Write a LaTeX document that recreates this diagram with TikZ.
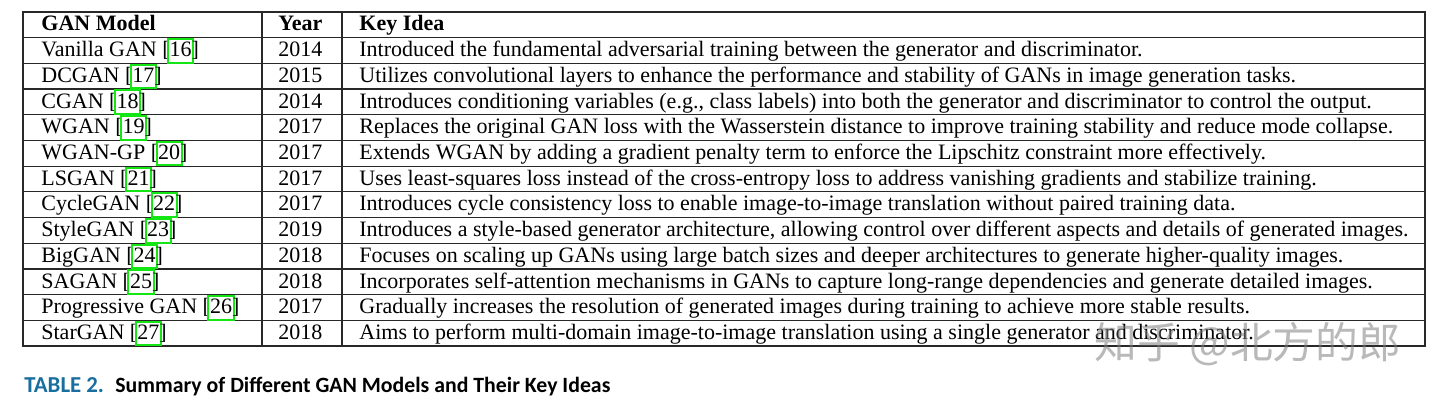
\documentclass[tikz,border=0pt]{standalone}
\usepackage{fontspec}
\setmainfont{Liberation Serif}
\newfontfamily\capfont{Carlito}
\newfontfamily\cjkfont{Noto Sans CJK SC}
\usetikzlibrary{positioning}

\definecolor{citegreen}{RGB}{20,230,20}
\definecolor{capblue}{RGB}{25,110,160}
\definecolor{tableline}{RGB}{40,40,40}

% green link box round a reference number, takes no width
\newcommand\citebox[1]{\rlap{\kern-1.3pt\textcolor{citegreen}{\setlength\fboxrule{1pt}\setlength\fboxsep{0.3pt}\fbox{\phantom{#1}\rule[-2.2pt]{0pt}{10.2pt}}}}#1}

\tikzset{
    cell/.style={anchor=base west, inner sep=0pt, font=\fontsize{11}{12}\selectfont},
    head/.style={cell, font=\fontsize{11}{12}\selectfont\bfseries},
    rowline/.style={draw=tableline, line width=0.6pt},
    frame/.style={draw=tableline, line width=0.8pt}
}

\begin{document}
\begin{tikzpicture}[x=0.5pt, y=-0.5pt]

    \useasboundingbox (0,0) rectangle (1440,406);

    % table rules
    \draw[frame] (23,12) rectangle (1425,346);
    \foreach \i in {1,...,12}
        \draw[rowline] (23,12+25.7*\i) -- (1425,12+25.7*\i);
    \draw[rowline] (262,12) -- (262,346);
    \draw[rowline] (342,12) -- (342,346);

    % header
    \node[head] (h1) at (41,31) {GAN Model};
    \node[head] (h2) at (278,31) {Year};
    \node[head] (h3) at (359,31) {Key Idea};

    % rows
    \node[cell] (m1) at (41,56.7) {Vanilla GAN [\citebox{16}]};
    \node[cell] (y1) at (278,56.7) {2014};
    \node[cell] (k1) at (359,56.7) {Introduced the fundamental adversarial training between the generator and discriminator.};

    \node[cell] (m2) at (41,82.4) {DCGAN [\citebox{17}]};
    \node[cell] (y2) at (278,82.4) {2015};
    \node[cell] (k2) at (359,82.4) {Utilizes convolutional layers to enhance the performance and stability of GANs in image generation tasks.};

    \node[cell] (m3) at (41,108.1) {CGAN [\citebox{18}]};
    \node[cell] (y3) at (278,108.1) {2014};
    \node[cell] (k3) at (359,108.1) {Introduces conditioning variables (e.g., class labels) into both the generator and discriminator to control the output.};

    \node[cell] (m4) at (41,133.8) {WGAN [\citebox{19}]};
    \node[cell] (y4) at (278,133.8) {2017};
    \node[cell] (k4) at (359,133.8) {Replaces the original GAN loss with the Wasserstein distance to improve training stability and reduce mode collapse.};

    \node[cell] (m5) at (41,159.5) {WGAN-GP [\citebox{20}]};
    \node[cell] (y5) at (278,159.5) {2017};
    \node[cell] (k5) at (359,159.5) {Extends WGAN by adding a gradient penalty term to enforce the Lipschitz constraint more effectively.};

    \node[cell] (m6) at (41,185.2) {LSGAN [\citebox{21}]};
    \node[cell] (y6) at (278,185.2) {2017};
    \node[cell] (k6) at (359,185.2) {Uses least-squares loss instead of the cross-entropy loss to address vanishing gradients and stabilize training.};

    \node[cell] (m7) at (41,210.9) {CycleGAN [\citebox{22}]};
    \node[cell] (y7) at (278,210.9) {2017};
    \node[cell] (k7) at (359,210.9) {Introduces cycle consistency loss to enable image-to-image translation without paired training data.};

    \node[cell] (m8) at (41,236.6) {StyleGAN [\citebox{23}]};
    \node[cell] (y8) at (278,236.6) {2019};
    \node[cell] (k8) at (359,236.6) {Introduces a style-based generator architecture, allowing control over different aspects and details of generated images.};

    \node[cell] (m9) at (41,262.3) {BigGAN [\citebox{24}]};
    \node[cell] (y9) at (278,262.3) {2018};
    \node[cell] (k9) at (359,262.3) {Focuses on scaling up GANs using large batch sizes and deeper architectures to generate higher-quality images.};

    \node[cell] (m10) at (41,288) {SAGAN [\citebox{25}]};
    \node[cell] (y10) at (278,288) {2018};
    \node[cell] (k10) at (359,288) {Incorporates self-attention mechanisms in GANs to capture long-range dependencies and generate detailed images.};

    \node[cell] (m11) at (41,313.7) {Progressive GAN [\citebox{26}]};
    \node[cell] (y11) at (278,313.7) {2017};
    \node[cell] (k11) at (359,313.7) {Gradually increases the resolution of generated images during training to achieve more stable results.};

    \node[cell] (m12) at (41,339.4) {StarGAN [\citebox{27}]};
    \node[cell] (y12) at (278,339.4) {2018};
    \node[cell] (k12) at (359,339.4) {Aims to perform multi-domain image-to-image translation using a single generator and discriminator.};

    % watermark
    \node[anchor=base west, inner sep=0pt, text=gray, opacity=0.55,
        font=\cjkfont\fontsize{21.4}{24}\selectfont] (wm) at (1094,358) {知乎 @北方的郎};

    % caption
    \node[anchor=base west, inner sep=0pt, text=capblue,
        font=\capfont\bfseries\fontsize{11.4}{14}\selectfont] (tabno) at (24,392) {TABLE 2.};
    \node[anchor=base west, inner sep=0pt,
        font=\capfont\bfseries\fontsize{10.9}{14}\selectfont] (captext) at (115,392) {Summary of Different GAN Models and Their Key Ideas};
\end{tikzpicture}
\end{document}
